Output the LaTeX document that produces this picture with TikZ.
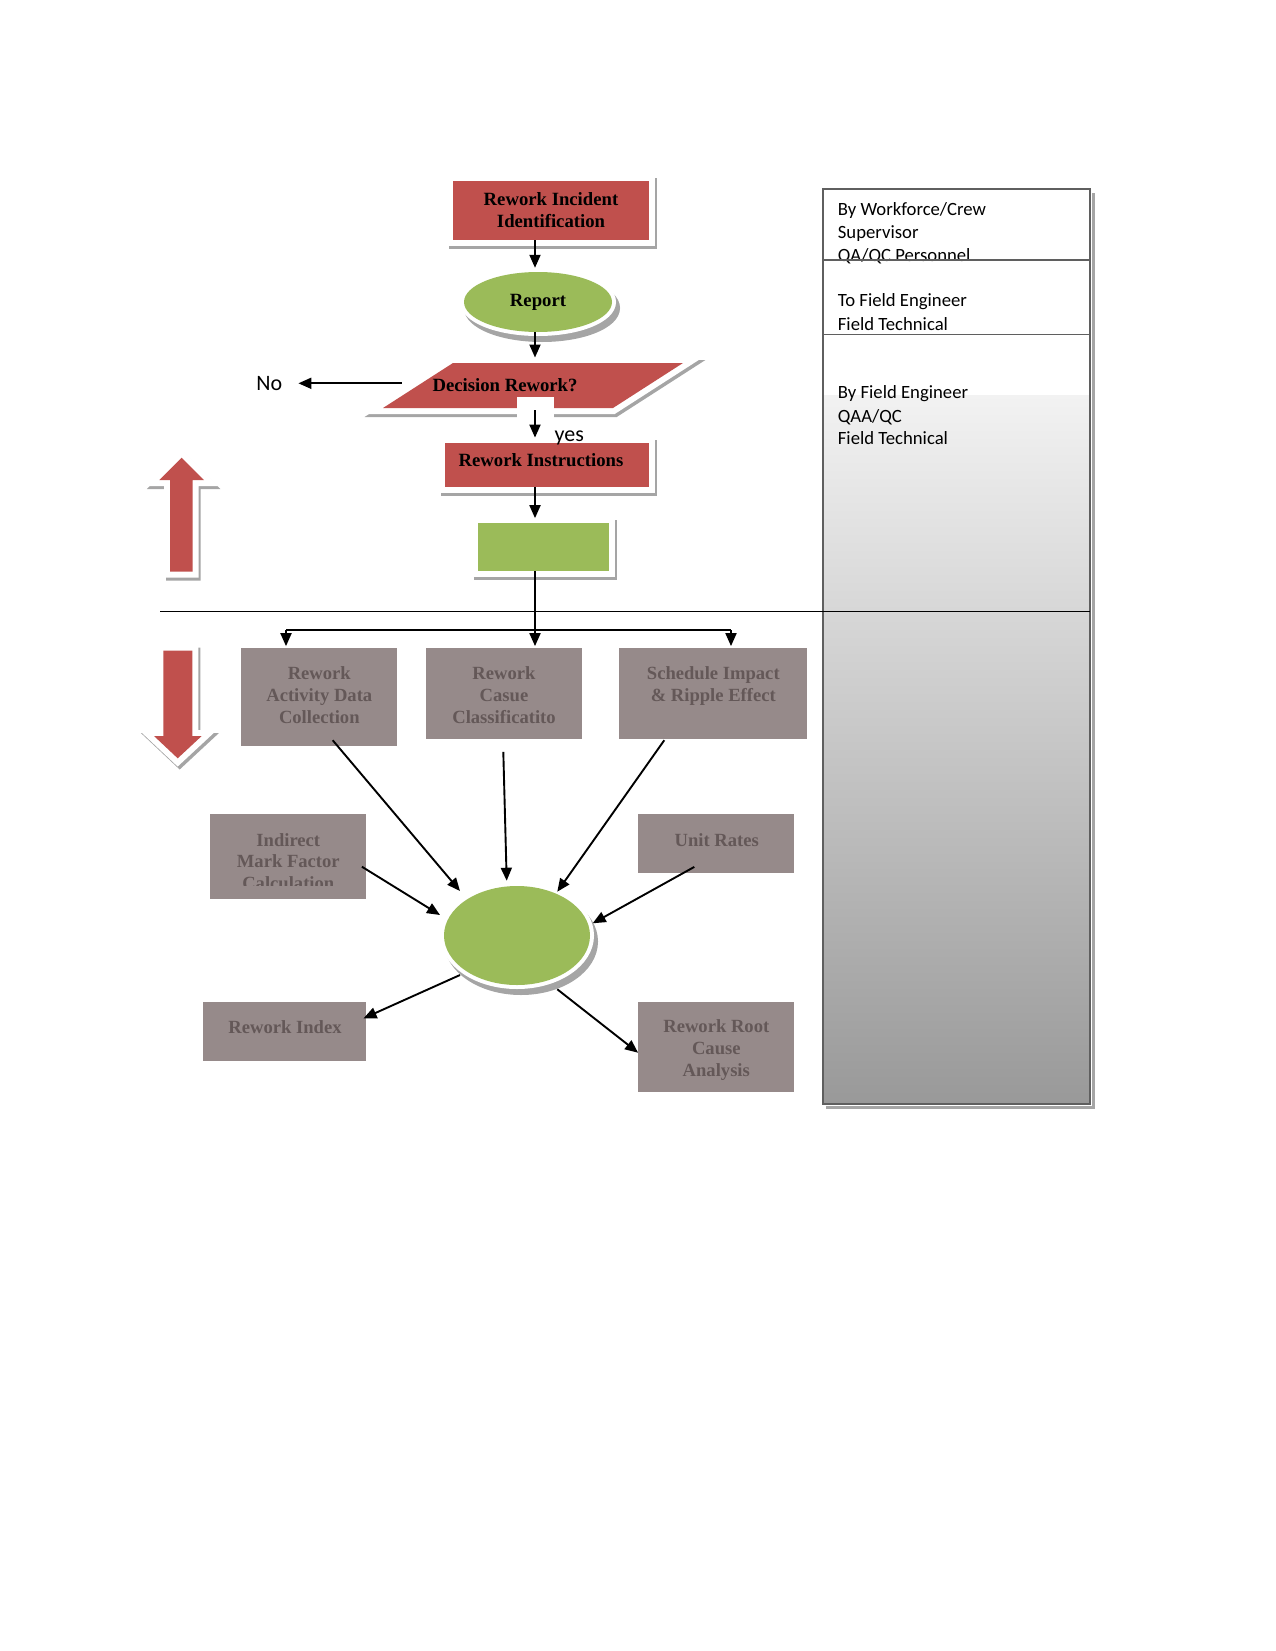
\documentclass[tikz,border=0pt]{standalone}
\usepackage{fontspec}
\setmainfont{Liberation Serif}
\newfontfamily\calfont{Carlito}
\usetikzlibrary{arrows.meta,calc,shapes.geometric}
\definecolor{wred}{RGB}{192,80,77}
\definecolor{wgreen}{RGB}{155,187,89}
\definecolor{gboxc}{RGB}{150,138,138}
\definecolor{gtextc}{RGB}{100,88,88}
\definecolor{shad}{RGB}{165,165,165}
\definecolor{coltop}{RGB}{242,242,242}
\definecolor{colbot}{RGB}{153,153,153}
\definecolor{framec}{RGB}{95,95,95}
\begin{document}
\begin{tikzpicture}[x=1pt,y=-1pt,
  serifb/.style={font=\fontsize{18.7}{22}\selectfont\bfseries},
  fancy/.style={inner sep=0pt, line join=miter,
    preaction={draw=shad, fill=shad, line width=12pt, transform canvas={xshift=2pt,yshift=-3pt}},
    preaction={draw=white, line width=12pt}},
  redbox/.style={fancy, rectangle, fill=wred, serifb, align=center},
  greenbox/.style={fancy, rectangle, fill=wgreen},
  greenell/.style={ellipse, inner sep=0pt, fill=wgreen,
    preaction={draw=shad, fill=shad, line width=8pt, transform canvas={xshift=4pt,yshift=-6pt}},
    preaction={draw=white, line width=8pt}},
  graybox/.style={rectangle, fill=gboxc, inner sep=0pt},
  gtxt/.style={font=\fontsize{18.6}{21.7}\selectfont\bfseries, text=gtextc, align=center, inner sep=0pt},
  sans/.style={font=\calfont\fontsize{22}{26}\selectfont, inner sep=0pt},
  coltxt/.style={font=\calfont\fontsize{18.7}{23}\selectfont, inner sep=0pt, anchor=base west},
  arr/.style={-{Triangle[length=13pt,width=11pt]}, line width=1.9pt},
  plain/.style={line width=1.5pt}
]
\useasboundingbox (0,0) rectangle (1275,1651);

% ---------- right column ----------
\draw[shad, line width=3pt] (1093,193) -- (1093,1107) -- (826,1107);
\fill[white] (822.7,189.3) rectangle (1090,400);
\shade[top color=coltop, bottom color=colbot] (822.7,395) rectangle (1090,1104);
\node[coltxt] (rc1) at (837.7,215.5) {By Workforce/Crew};
\node[coltxt] (rc2) at (837.7,238.5) {Supervisor};
\node[coltxt] (rc3) at (837.7,261.5) {QA/QC Personnel};
\node[coltxt] (rc4) at (837.7,306) {To Field Engineer};
\node[coltxt] (rc5) at (837.7,330) {Field Technical};
\node[coltxt] (rc6) at (837.7,398) {By Field Engineer};
\node[coltxt] (rc7) at (837.7,422) {QAA/QC};
\node[coltxt] (rc8) at (837.7,444.5) {Field Technical};
\draw[framec, line width=2pt] (822.7,189.3) rectangle (1090,1104);
\draw[framec, line width=1.6pt] (822.7,260) -- (1090,260);
\draw[framec, line width=1.6pt] (822.7,334.3) -- (1090,334.3);

% separator
\coordinate (sepL) at (160,611.7);
\coordinate (sepR) at (1090,611.7);
\draw[plain] (sepL) -- (sepR);

% ---------- top flow ----------
\coordinate (ax) at (535,0);
\node[redbox, minimum width=196pt, minimum height=59pt] (inc) at (551,210.5) {Rework Incident\\Identification};
\node[greenell, minimum width=148pt, minimum height=60pt, serifb] (rep) at (538,302) {Report};

\coordinate (dTL) at (453,363);
\coordinate (dTR) at (683,363);
\coordinate (dBR) at (613,408);
\coordinate (dBL) at (383,408);
\path[fancy, fill=wred] (dTL) -- (dTR) -- (dBR) -- (dBL) -- cycle;
\node[serifb, inner sep=0pt] (dec) at (505,385) {Decision Rework?};
\coordinate (dtop) at (535,357.5);
\coordinate (dleft) at (401.7,383.3);

\fill[white] (516.7,397.3) rectangle (554,444);

\node[redbox, minimum width=204.3pt, minimum height=43.4pt] (ri) at (547.2,465) {};
\node[serifb, inner sep=0pt] (ritext) at (541,460) {Rework Instructions};
\node[greenbox, minimum width=131pt, minimum height=47.7pt] (gr) at (543.8,547.2) {};

\node[sans] (no) at (269.3,383.3) {No};
\draw[arr] (dleft) -- ($(no.east)+(16,0)$);

\draw[arr, shorten >=4pt] (inc.south -| ax) -- (rep.north -| ax);
\draw[arr] (rep.south -| ax) -- (dtop);
\coordinate (ystart) at (535,410);
\draw[arr, shorten >=5.5pt] (ystart) -- (ri.north -| ystart);
\node[sans] (yes) at (569.3,437.7) {yes};
\draw[arr, shorten >=5pt] (ri.south -| ax) -- (gr.north -| ax);

% ---------- lower boxes ----------
\node[graybox, minimum width=156.3pt, minimum height=97.7pt] (b1) at (319.2,697.2) {};
\node[graybox, minimum width=155.7pt, minimum height=91pt] (b2) at (503.9,693.8) {};
\node[graybox, minimum width=188pt, minimum height=91pt] (b3) at (713.3,693.8) {};
\node[graybox, minimum width=156pt, minimum height=85pt] (b4) at (288,856.5) {};
\node[graybox, minimum width=156pt, minimum height=59pt] (b5) at (716.3,843.8) {};
\node[graybox, minimum width=163.3pt, minimum height=58.4pt] (b6) at (284.4,1031.5) {};
\node[graybox, minimum width=156pt, minimum height=90.3pt] (b7) at (716.3,1046.9) {};

\node[gtxt] (t1) at (319.3,695) {Rework\\Activity Data\\Collection};
\node[gtxt] (t2) at (504,695) {Rework\\Casue\\Classificatito};
\node[gtxt] (t3) at (713.3,686) {Schedule Impact\\\& Ripple Effect};
\begin{scope}
  \clip (210,814) rectangle (366,885.5);
  \node[gtxt] (t4) at (288.3,861.6) {Indirect\\Mark Factor\\Calculation};
\end{scope}
\node[gtxt] (t5) at (716.7,840) {Unit Rates};
\node[gtxt] (t6) at (285,1026.7) {Rework Index};
\node[gtxt] (t7) at (716.3,1050) {Rework Root\\Cause\\Analysis};

\node[greenell, minimum width=146pt, minimum height=99pt] (c) at (517,935.5) {};

% branch
\coordinate (bl) at (286,630);
\coordinate (brr) at (731,630);
\draw[arr, shorten >=2pt] (gr.south -| ax) -- (b2.north -| ax);
\draw[plain] (bl) -- (brr);
\draw[arr, shorten >=2pt] (bl) -- (b1.north -| bl);
\draw[arr, shorten >=2pt] (brr) -- (b3.north -| brr);

% spokes
\draw[arr] ($(b1.south)+(13.5,-6)$) -- ($(c)+(-57,-44.5)$);
\draw[arr] ($(b2.south)+(-0.6,12.4)$) -- ($(c)+(-10.3,-54.8)$);
\draw[arr] ($(b3.south)+(-49,0.7)$) -- ($(c)+(40.3,-43.8)$);
\draw[arr] ($(b4.east)+(-4.3,10.2)$) -- ($(c)+(-77,-20.5)$);
\draw[arr] ($(b5.south)+(-22,-6.6)$) -- ($(c)+(75.7,-12.2)$);
\draw[arr] ($(c)+(-57,39.5)$) -- ($(b6.east)+(-2.7,-13.2)$);
\draw[arr] ($(c)+(40.3,53.8)$) -- ($(b7.west)+(0,5.8)$);

% ---------- block arrows ----------
\path[fancy, fill=wred] (170,571.7) -- (170,480) -- (159.3,480) -- (181.7,457.7) -- (204,480) -- (192.7,480) -- (192.7,571.7) -- cycle;
\path[fancy, fill=wred] (163.3,650.7) -- (192.3,650.7) -- (192.3,736) -- (201.7,736) -- (177.7,758.3) -- (154,736) -- (163.3,736) -- cycle;
\end{tikzpicture}
\end{document}
